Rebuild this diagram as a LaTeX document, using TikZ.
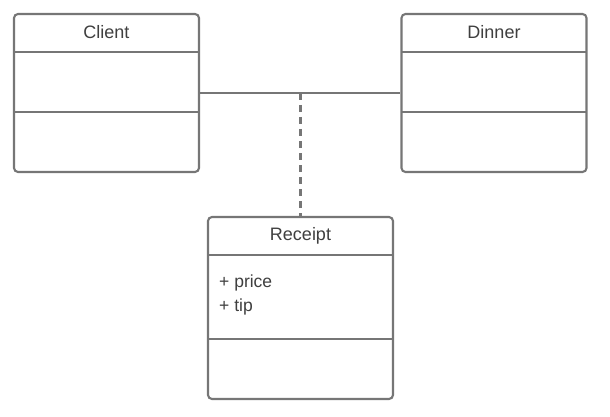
\documentclass[tikz,border=0pt]{standalone}
\usepackage{fontspec}
\setmainfont{Liberation Sans}
\definecolor{linegray}{HTML}{767676}
\definecolor{textgray}{HTML}{3F3F3F}
\begin{document}
\begin{tikzpicture}[x=1pt,y=-1pt,
  classbox/.style={draw=linegray,line width=2.1pt,rounded corners=4pt,fill=white,inner sep=0pt},
  sep/.style={draw=linegray,line width=2pt},
  conn/.style={draw=linegray,line width=1.6pt},
  lbl/.style={text=textgray,font=\fontsize{18}{21}\selectfont,inner sep=0pt},
  attr/.style={text=textgray,font=\fontsize{17.5}{20}\selectfont,inner sep=0pt,anchor=west}]
\useasboundingbox (0,0) rectangle (610,417);
% Client
\node[classbox,minimum width=185pt,minimum height=158pt] (client) at (106.5,93) {};
\draw[sep] (14,52) -- (199,52);
\draw[sep] (14,112) -- (199,112);
\node[lbl] (clientname) at (106.5,32) {Client};
% Dinner
\node[classbox,minimum width=185pt,minimum height=158pt] (dinner) at (494,93) {};
\draw[sep] (401.5,52) -- (586.5,52);
\draw[sep] (401.5,112) -- (586.5,112);
\node[lbl] (dinnername) at (494,32) {Dinner};
% Receipt
\node[classbox,minimum width=185pt,minimum height=182pt] (receipt) at (300.5,308) {};
\draw[sep] (208,255) -- (393,255);
\draw[sep] (208,339) -- (393,339);
\node[lbl] (receiptname) at (300.5,236) {Receipt};
\node[attr] (price) at (219,283) {+ price};
\node[attr] (tip) at (219,307) {+ tip};
% connectors
\draw[conn] (client.east) -- (dinner.west);
\coordinate (mid) at (300.5,93);
\draw[conn,line width=2.4pt,dash pattern=on 7pt off 5pt] (mid) -- (receipt.north);
\end{tikzpicture}
\end{document}
